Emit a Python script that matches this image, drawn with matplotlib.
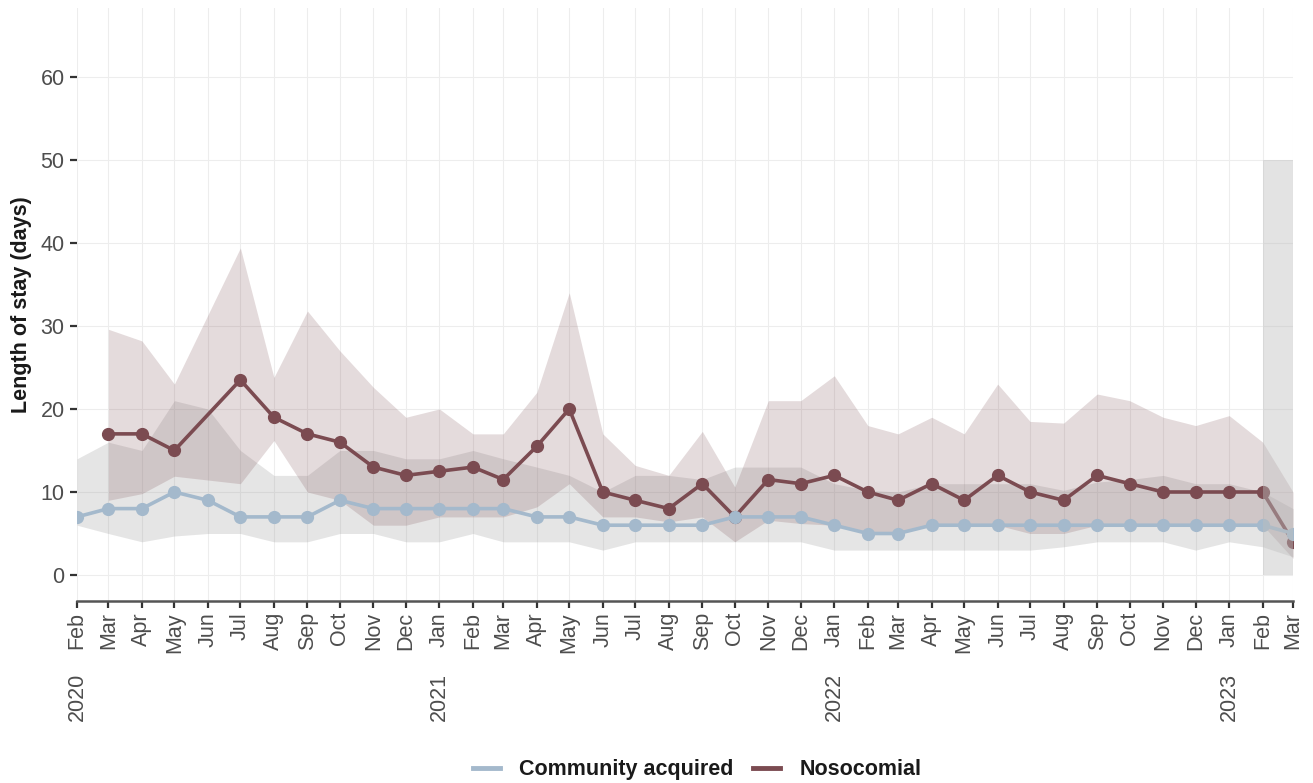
import matplotlib
matplotlib.use('Agg')
import matplotlib.pyplot as plt
from matplotlib.lines import Line2D
import pandas as pd

plt.rcParams['font.family'] = ['Liberation Sans', 'DejaVu Sans']

# monthly data, Feb 2020 - Mar 2023
months = pd.date_range('2020-02-01', '2023-03-01', freq='MS')
month_labels = [m.strftime('%b') for m in months]

comm_med = [7, 8, 8, 10, 9, 7, 7, 7, 9, 8, 8,
            8, 8, 8, 7, 7, 6, 6, 6, 6, 7, 7, 7,
            6, 5, 5, 6, 6, 6, 6, 6, 6, 6, 6, 6,
            6, 6, 5]
comm_hi = [14, 16, 15, 21, 20, 15, 12, 12, 15, 15, 14,
           14, 15, 14, 13, 12, 10, 12, 12, 11.5, 13, 13, 13,
           11, 10.2, 10, 11, 11, 11, 11, 10.2, 11.2, 11.5, 12, 11,
           11, 10, 8]
comm_lo = [6, 5, 4, 4.7, 5, 5, 4, 4, 5, 5, 4,
           4, 5, 4, 4, 4, 3, 4, 4, 4, 4, 4, 4,
           3, 3, 3, 3, 3, 3, 3, 3.4, 4, 4, 4, 3,
           4, 3.4, 2.2]

# nosocomial: no value for Jun 2020
noso_months = [m for m in months[1:] if m != pd.Timestamp('2020-06-01')]
noso_med = [17, 17, 15, 23.5, 19, 17, 16, 13, 12,
            12.5, 13, 11.5, 15.5, 20, 10, 9, 8, 11, 7, 11.5, 11,
            12, 10, 9, 11, 9, 12, 10, 9, 12, 11, 10, 10,
            10, 10, 4]
noso_hi = [29.6, 28.2, 23, 39.4, 23.8, 31.8, 27, 22.6, 19,
           20, 17, 17, 22, 34, 17, 13.2, 12, 17.3, 10.6, 21, 21,
           24, 18, 17, 19, 17, 23, 18.5, 18.3, 21.8, 21, 19, 18,
           19.2, 16, 10]
noso_lo = [9, 9.8, 11.9, 11, 16.2, 10, 9, 6, 6,
           7, 7, 7, 8.2, 11, 7, 7, 6.4, 7, 4, 6.6, 6.2,
           6, 5, 5, 6, 6, 6, 5, 5, 6, 6, 6, 6,
           6, 6, 2]

year_ticks = [pd.Timestamp('2020-02-01'), pd.Timestamp('2021-01-01'),
              pd.Timestamp('2022-01-01'), pd.Timestamp('2023-01-01')]

col_comm = '#a4b9cc'
col_noso = '#7b4b51'
txt_col = '#4d4d4d'

fig = plt.figure(figsize=(13.13, 7.83), dpi=100)
ax = fig.add_axes([77/1313, 1-601/783, (1293-77)/1313, (601-8)/783])

x_c = months.to_pydatetime()
x_n = [m.to_pydatetime() for m in noso_months]

ax.fill_between(x_c, comm_lo, comm_hi, color='#7f7f7f', alpha=0.2, lw=0, zorder=2)
ax.fill_between(x_n, noso_lo, noso_hi, color=col_noso, alpha=0.2, lw=0, zorder=2)

ax.plot(x_n, noso_med, color=col_noso, lw=2.6, marker='o', ms=8.5, zorder=3)
ax.plot(x_c, comm_med, color=col_comm, lw=2.6, marker='o', ms=8.5, zorder=4)

# incomplete last month shading
ax.fill_between([months[-2].to_pydatetime(), months[-1].to_pydatetime()], 0, 50,
                color='#bebebe', alpha=0.43, lw=0, zorder=5)

ax.set_xlim(x_c[0], x_c[-1])
ax.set_ylim(-3.13, 68.3)

ax.set_yticks([0, 10, 20, 30, 40, 50, 60])
ax.set_xticks(x_c)
ax.set_xticklabels(month_labels, rotation=90, va='top', ha='center')
ax.tick_params(axis='both', labelsize=15.5, labelcolor=txt_col, color='#333333',
               length=5, width=1.6)
ax.tick_params(axis='x', pad=3)
ax.tick_params(axis='y', pad=4)

for y, lab in zip(year_ticks, ['2020', '2021', '2022', '2023']):
    ax.annotate(lab, xy=(y.to_pydatetime(), 0), xycoords=('data', 'axes fraction'),
                xytext=(0, -72), textcoords='offset pixels', rotation=90,
                ha='center', va='top', fontsize=15.5, color=txt_col)

ax.grid(True, color='#ededed', lw=0.8, zorder=0)
ax.set_axisbelow(True)
for s in ['left', 'right', 'top']:
    ax.spines[s].set_visible(False)
ax.spines['bottom'].set_color('#555555')
ax.spines['bottom'].set_linewidth(1.8)

ax.set_ylabel('Length of stay (days)', fontsize=15.5, fontweight='bold', color='#1a1a1a',
              labelpad=6)

handles = [Line2D([], [], color=col_comm, lw=3.5),
           Line2D([], [], color=col_noso, lw=3.5)]
leg = fig.legend(handles, ['Community acquired', 'Nosocomial'], loc='center',
                 bbox_to_anchor=(0.531, 0.017), ncol=2, frameon=False,
                 handlelength=1.25, columnspacing=0.9, handletextpad=0.9,
                 prop={'size': 15.5, 'weight': 'bold'})
for t in leg.get_texts():
    t.set_color('#1a1a1a')

fig.savefig('out.png', dpi=100)
